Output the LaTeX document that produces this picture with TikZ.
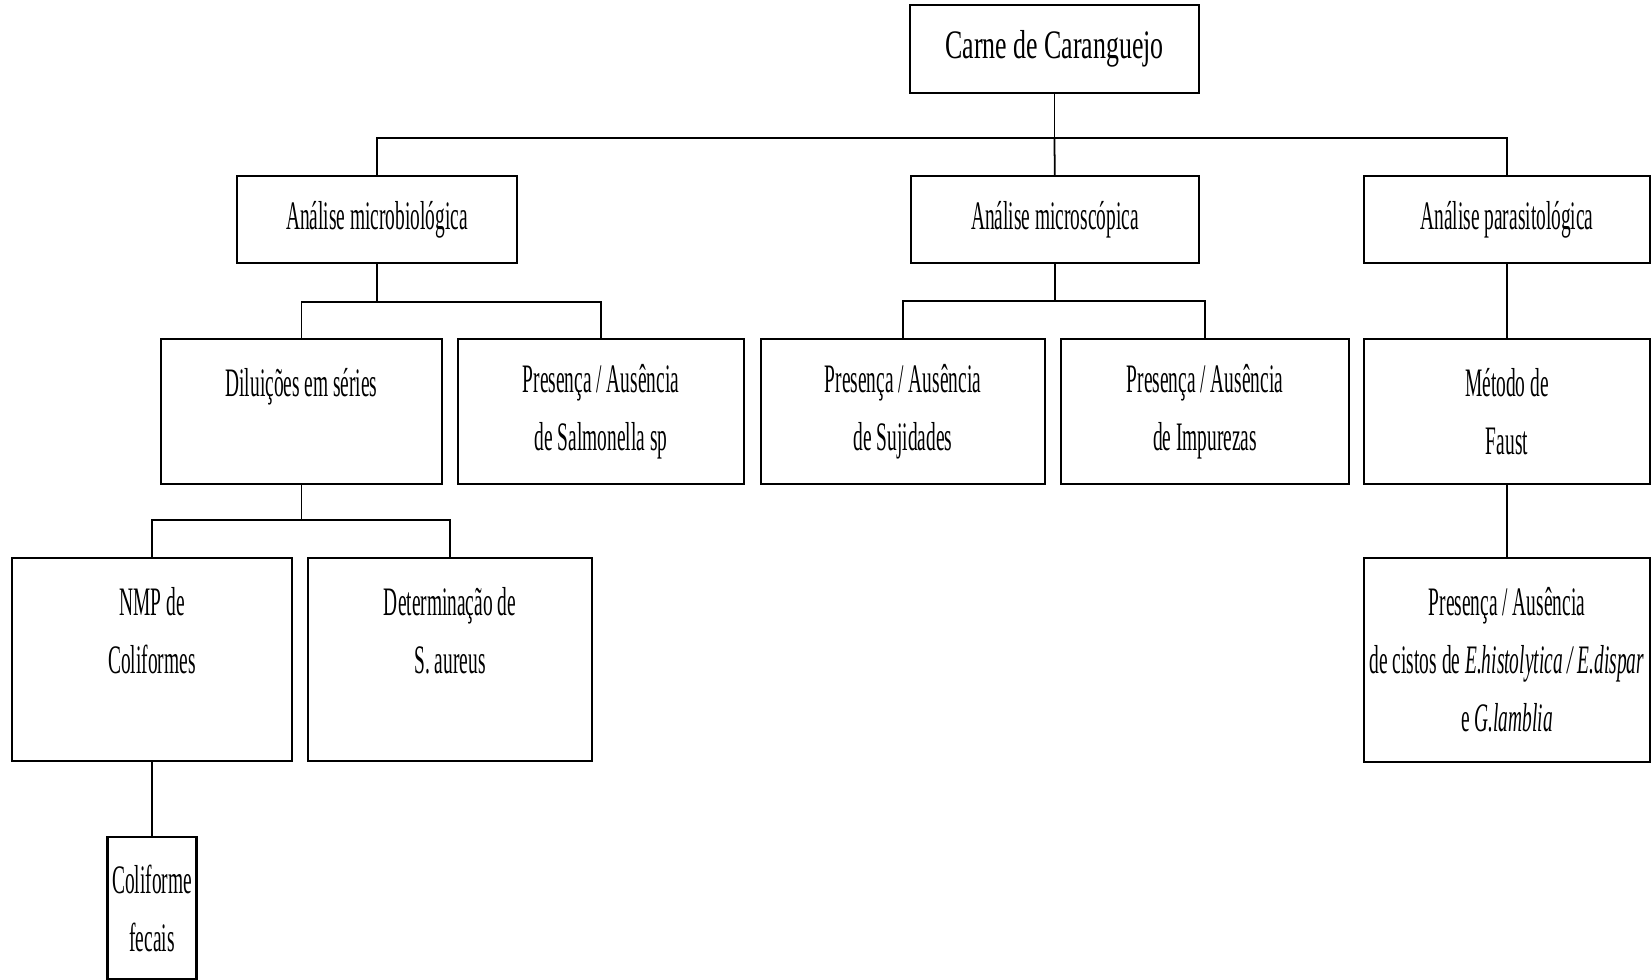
\documentclass[tikz,border=0pt]{standalone}
\usepackage{fontspec}
\setmainfont[FakeStretch=0.48]{Liberation Serif}
\newfontfamily\largo[FakeStretch=0.64]{Liberation Serif}

\begin{document}
\begin{tikzpicture}[x=0.01cm,y=-0.01cm,line width=0.5pt,
            every node/.style={draw,line width=0.6pt,align=center,inner sep=0pt,
              font=\fontsize{11.5}{16.5}\selectfont},
            caixa/.style={minimum width=#1},
            topo/.style={minimum height=0.87cm},
            meio/.style={minimum height=1.45cm},
            baixo/.style={minimum height=2.03cm}]
            \useasboundingbox(0,0)rectangle(1652,980);
            % nivel 0 e 1
            \node[caixa=2.89cm,minimum height=0.88cm,font=\largo\fontsize{11.5}{16.5}\selectfont](carne)at(1054.5,49){Carne de Caranguejo};
            \node[caixa=2.80cm,topo](micro)at(377,219.5){Análise microbiológica};
            \node[caixa=2.88cm,topo](mcsc)at(1055,219.5){Análise microscópica};
            \node[caixa=2.85cm,topo](para)at(1507,219.5){Análise parasitológica};
            % nivel 2
            \node[caixa=2.81cm,meio](dil)at(301.5,411.5){Diluições em séries\\ \phantom{X}};
            \node[caixa=2.86cm,meio](salm)at(601,411.5){Presença / Ausência\\de Salmonella sp};
            \node[caixa=2.84cm,meio](suj)at(903,411.5){Presença / Ausência\\de Sujidades};
            \node[caixa=2.88cm,meio](imp)at(1205,411.5){Presença / Ausência\\de Impurezas};
            \node[caixa=2.85cm,meio](faust)at(1507,411.5){Método de\\Faust};
            % nivel 3
            \node[caixa=2.79cm,baixo](nmp)at(152,659.5){NMP de\\Coliformes\\ \phantom{X}};
            \node[caixa=2.84cm,baixo](saur)at(450,659.5){Determinação de\\S. aureus\\ \phantom{X}};
            \node[caixa=2.86cm,baixo](cistos)at(1507,660){Presença / Ausência\\de cistos de \textit{E.histolytica / E.dispar}\\e \textit{G.lamblia}};
            \node[caixa=0.89cm,minimum height=1.42cm](fecais)at(152,908){Coliforme\\fecais};
            % barramentos
            \coordinate(b1)at(1054.5,138);
            \coordinate(b2)at(377,302);
            \coordinate(b3)at(1055,301);
            \coordinate(b4)at(301.5,520);
            \draw(carne)--(b1);
            \draw(micro.north)|-(b1)-|(para.north);
            \draw(b1)--(mcsc);
            \draw(micro)--(b2);
            \draw(dil.north)|-(b2)-|(salm.north);
            \draw(mcsc)--(b3);
            \draw(suj.north)|-(b3)-|(imp.north);
            \draw(para)--(faust);
            \draw(faust)--(cistos);
            \draw(dil)--(b4);
            \draw(nmp.north)|-(b4)-|(saur.north);
            \draw(nmp)--(fecais);
          \end{tikzpicture}
\end{document}
